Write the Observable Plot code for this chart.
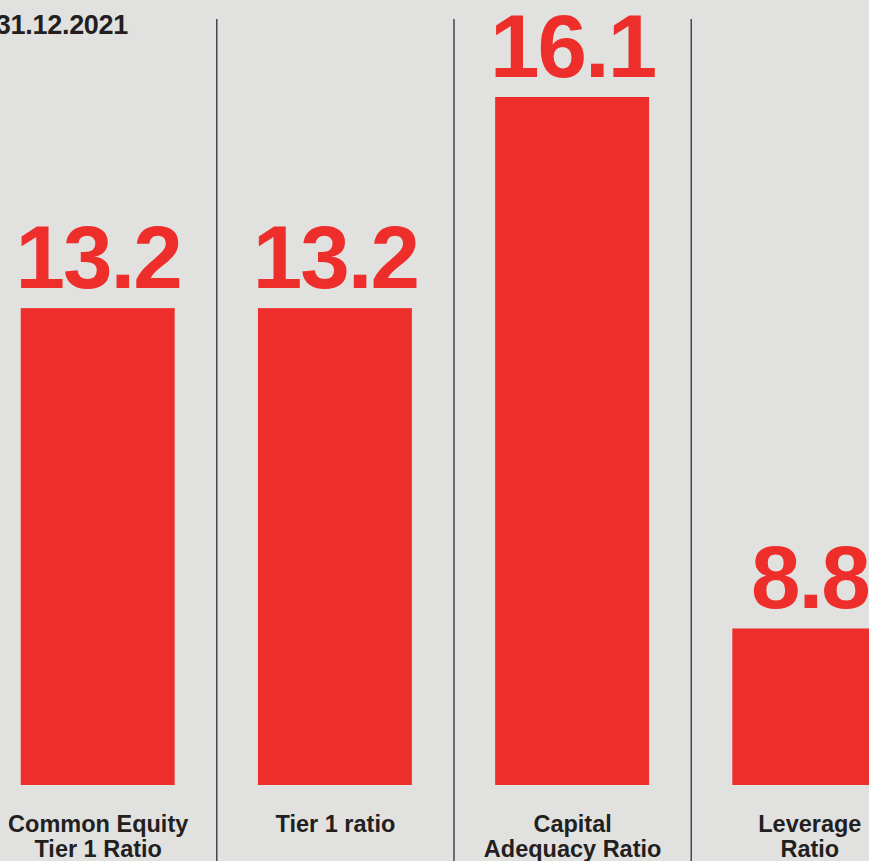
<!DOCTYPE html>
<html><head><meta charset="utf-8">
<script src="https://cdn.jsdelivr.net/npm/d3@7"></script>
<script src="https://cdn.jsdelivr.net/npm/@observablehq/plot@0.6"></script>
<style>
html,body{margin:0;padding:0;background:#e1e1e0;}
#wrap{position:relative;width:869px;height:861px;overflow:hidden;}
#title{position:absolute;top:12px;right:741px;font:bold 27px "Liberation Sans",Arial,sans-serif;color:#231f20;line-height:27px;white-space:nowrap;letter-spacing:-0.3px;}
</style></head><body>
<div id="wrap"><div id="chart"></div><div id="title"></div></div>
<script>
const titleText = "31.12.2021";
const categories = ["Common Equity\nTier 1 Ratio", "Tier 1 ratio", "Capital\nAdequacy Ratio", "Leverage\nRatio"];
const values = [13.2, 13.2, 16.1, 8.8];
const valueLabels = ["13.2", "13.2", "16.1", "8.8"];

const red = "#ee2e2a";
const ink = "#231f20";
const font = "'Liberation Sans', Arial, Helvetica, sans-serif";

const data = categories.map((c, i) => ({category: c, value: values[i], label: valueLabels[i]}));

// layout of the band scale (partly cropped on both sides, as in the reference)
const step = 237.2, pad = 0.351, firstCenter = 97.7;
const rangeStart = firstCenter - (1 - pad) * step / 2 - pad * step;
const rangeEnd = rangeStart + step * (categories.length + pad);
const yMin = 6.65;

const chart = Plot.plot({
  width: 869,
  height: 861,
  marginTop: 97,
  marginBottom: 76,
  marginLeft: 0,
  marginRight: 0,
  style: {background: "#e1e1e0", color: ink, fontFamily: font, overflow: "hidden"},
  x: {domain: categories, range: [rangeStart, rangeEnd], paddingInner: pad, paddingOuter: pad, round: false, label: null},
  y: {domain: [yMin, d3.max(values)], clamp: true, axis: null},
  marks: [
    Plot.ruleX(categories.slice(1), {x: d => d, dx: -step / 2, stroke: ink, strokeWidth: 1.2, insetTop: -78, insetBottom: -80}),
    Plot.barY(data, {x: "category", y: "value", fill: red}),
    Plot.text(data, {x: "category", y: "value", text: "label", lineAnchor: "bottom", dy: -21,
      fontSize: 89, fontWeight: "bold", fill: red, fontFamily: font}),
    Plot.axisX({tickSize: 0, tickPadding: 28.6, fontSize: 23.5, fontWeight: "bold", lineHeight: 1.064, color: ink, label: null})
  ]
});
d3.select(chart).selectAll("g[aria-label='text'] text").style("letter-spacing", "-2px");
document.getElementById("chart").appendChild(chart);
document.getElementById("title").textContent = titleText;
</script>
</body></html>
